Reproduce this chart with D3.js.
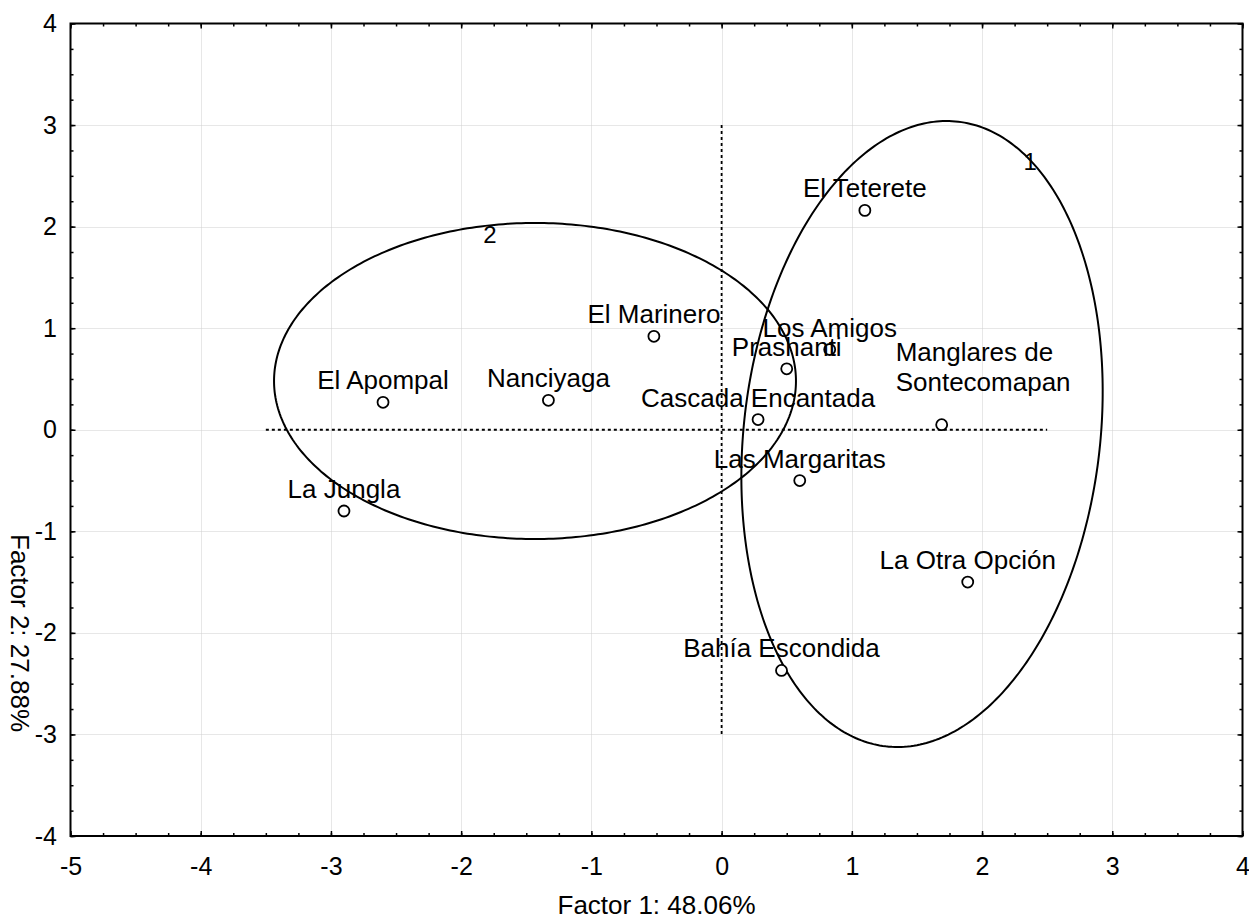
<!DOCTYPE html>
<html>
<head>
<meta charset="utf-8">
<script src="https://cdn.jsdelivr.net/npm/d3@7"></script>
<style>
  html, body { margin: 0; padding: 0; background: #fff; }
  svg { display: block; font-family: "Liberation Sans", Arial, sans-serif; }
</style>
</head>
<body>
<svg id="chart" width="1249" height="922"></svg>
<script>
// Site scores on the first two factors
const sites = [
  "El Teterete", "El Marinero", "Los Amigos", "Prashanti",
  "Manglares de\nSontecomapan", "El Apompal", "Nanciyaga", "Cascada Encantada",
  "Las Margaritas", "La Jungla", "La Otra Opción", "Bahía Escondida"
];
const factor1 = [1.10, -0.52, 0.83, 0.50, 1.69, -2.60, -1.33, 0.28, 0.60, -2.90, 1.89, 0.46];
const factor2 = [2.16, 0.92, 0.79, 0.60, 0.05, 0.27, 0.29, 0.10, -0.50, -0.80, -1.50, -2.37];

// Group ellipses: centre and two conjugate semi-axis vectors (factor units)
const groupNames = ["1", "2"];
const groupCenter = [[1.539, -0.042], [-1.433, 0.480]];
const groupAxisU = [[0.279, 3.075], [0.0, 1.556]];
const groupAxisV = [[1.359, -0.203], [2.004, 0.0]];
const groupLabelAt = [[2.37, 2.56], [-1.78, 1.84]];

// Reference lines through the origin
const hRef = [[-3.5, 0], [2.5, 0]];
const vRef = [[0, 3], [0, -3]];

const xTicks = [-5, -4, -3, -2, -1, 0, 1, 2, 3, 4];
const yTicks = [-4, -3, -2, -1, 0, 1, 2, 3, 4];
const xTitle = "Factor 1: 48.06%";
const yTitle = "Factor 2: 27.88%";

(function draw() {
  const svg = d3.select("#chart");
  const pL = 70.5, pR = 1242.5, pT = 23.5, pB = 836;

  const x = d3.scaleLinear().domain([-5, 4]).range([pL, pR]);
  const y = d3.scaleLinear().domain([-4, 4]).range([pB, pT]);

  const minorX = d3.range(-5, 4.001, 0.25);
  const minorY = d3.range(-4, 4.001, 0.25);

  // grid
  const grid = svg.append("g").attr("stroke", "#cfcfcf").attr("stroke-width", 1)
    .attr("stroke-dasharray", "1,1");
  grid.selectAll("line.gx").data(xTicks.slice(1, -1)).join("line")
    .attr("x1", d => Math.round(x(d)) + 0.5).attr("x2", d => Math.round(x(d)) + 0.5)
    .attr("y1", pT).attr("y2", pB);
  grid.selectAll("line.gy").data(yTicks.slice(1, -1)).join("line")
    .attr("y1", d => Math.round(y(d)) + 0.5).attr("y2", d => Math.round(y(d)) + 0.5)
    .attr("x1", pL).attr("x2", pR);

  // dashed reference lines
  const refLine = d3.line().x(d => x(d[0])).y(d => y(d[1]));
  [hRef, vRef].forEach(seg => {
    svg.append("path").attr("d", refLine(seg))
      .attr("fill", "none").attr("stroke", "#000").attr("stroke-width", 1.8)
      .attr("stroke-dasharray", "3,3");
  });

  // group ellipses
  const ellipseLine = d3.line().x(d => x(d[0])).y(d => y(d[1])).curve(d3.curveLinearClosed);
  groupNames.forEach((g, i) => {
    const c = groupCenter[i], u = groupAxisU[i], v = groupAxisV[i];
    const ring = d3.range(0, 360, 1).map(a => {
      const t = a * Math.PI / 180;
      return [c[0] + u[0] * Math.cos(t) + v[0] * Math.sin(t),
              c[1] + u[1] * Math.cos(t) + v[1] * Math.sin(t)];
    });
    svg.append("path").attr("d", ellipseLine(ring))
      .attr("fill", "none").attr("stroke", "#000").attr("stroke-width", 2);
    svg.append("text")
      .attr("x", x(groupLabelAt[i][0])).attr("y", y(groupLabelAt[i][1]))
      .attr("text-anchor", "middle").attr("font-size", 24).attr("fill", "#000")
      .text(g);
  });

  // points
  const pts = sites.map((s, i) => ({ name: s, f1: factor1[i], f2: factor2[i] }));
  svg.append("g").selectAll("circle").data(pts).join("circle")
    .attr("cx", d => x(d.f1)).attr("cy", d => y(d.f2)).attr("r", 5.5)
    .attr("fill", "#fff").attr("stroke", "#000").attr("stroke-width", 1.8);

  // point labels
  const labels = svg.append("g").attr("font-size", 26).attr("fill", "#000");
  pts.forEach(d => {
    const lines = d.name.split("\n");
    if (lines.length === 1) {
      labels.append("text")
        .attr("x", x(d.f1)).attr("y", y(d.f2) - 13)
        .attr("text-anchor", "middle").text(d.name);
    } else {
      const t = labels.append("text").attr("text-anchor", "start");
      lines.forEach((ln, k) => {
        t.append("tspan")
          .attr("x", x(d.f1) - 46)
          .attr("y", y(d.f2) - 34 - (lines.length - 1 - k) * 30)
          .text(ln);
      });
    }
  });

  // axes: inward major and minor ticks on all four sides
  const fmt = d => String(d);
  function addAxis(gen, transform, showLabels) {
    const g = svg.append("g").attr("transform", transform).call(gen);
    g.select(".domain").remove();
    g.selectAll(".tick line").attr("stroke", "#000").attr("stroke-width", 1.5);
    if (!showLabels) g.selectAll(".tick text").remove();
    else g.selectAll(".tick text").attr("font-size", 25).attr("fill", "#000")
          .attr("font-family", "Liberation Sans, Arial, sans-serif");
    return g;
  }
  addAxis(d3.axisBottom(x).tickValues(minorX).tickSize(-3).tickFormat(""), `translate(0,${pB})`, false);
  addAxis(d3.axisTop(x).tickValues(minorX).tickSize(-3).tickFormat(""), `translate(0,${pT})`, false);
  addAxis(d3.axisLeft(y).tickValues(minorY).tickSize(-3).tickFormat(""), `translate(${pL},0)`, false);
  addAxis(d3.axisRight(y).tickValues(minorY).tickSize(-3).tickFormat(""), `translate(${pR},0)`, false);

  addAxis(d3.axisBottom(x).tickValues(xTicks).tickSize(-5).tickPadding(21).tickFormat(fmt), `translate(0,${pB})`, true);
  addAxis(d3.axisTop(x).tickValues(xTicks).tickSize(-5).tickFormat(""), `translate(0,${pT})`, false);
  addAxis(d3.axisLeft(y).tickValues(yTicks).tickSize(-5).tickPadding(13.5).tickFormat(fmt), `translate(${pL},0)`, true);
  addAxis(d3.axisRight(y).tickValues(yTicks).tickSize(-5).tickFormat(""), `translate(${pR},0)`, false);

  // frame
  svg.append("rect").attr("x", pL).attr("y", pT)
    .attr("width", pR - pL).attr("height", pB - pT)
    .attr("fill", "none").attr("stroke", "#000").attr("stroke-width", 2);

  // axis titles
  svg.append("text").attr("x", (pL + pR) / 2).attr("y", 914)
    .attr("text-anchor", "middle").attr("font-size", 26).attr("fill", "#000").text(xTitle);
  svg.append("text").attr("transform", "translate(11,633) rotate(90)")
    .attr("text-anchor", "middle").attr("font-size", 26).attr("fill", "#000").text(yTitle);
})();
</script>
</body>
</html>
